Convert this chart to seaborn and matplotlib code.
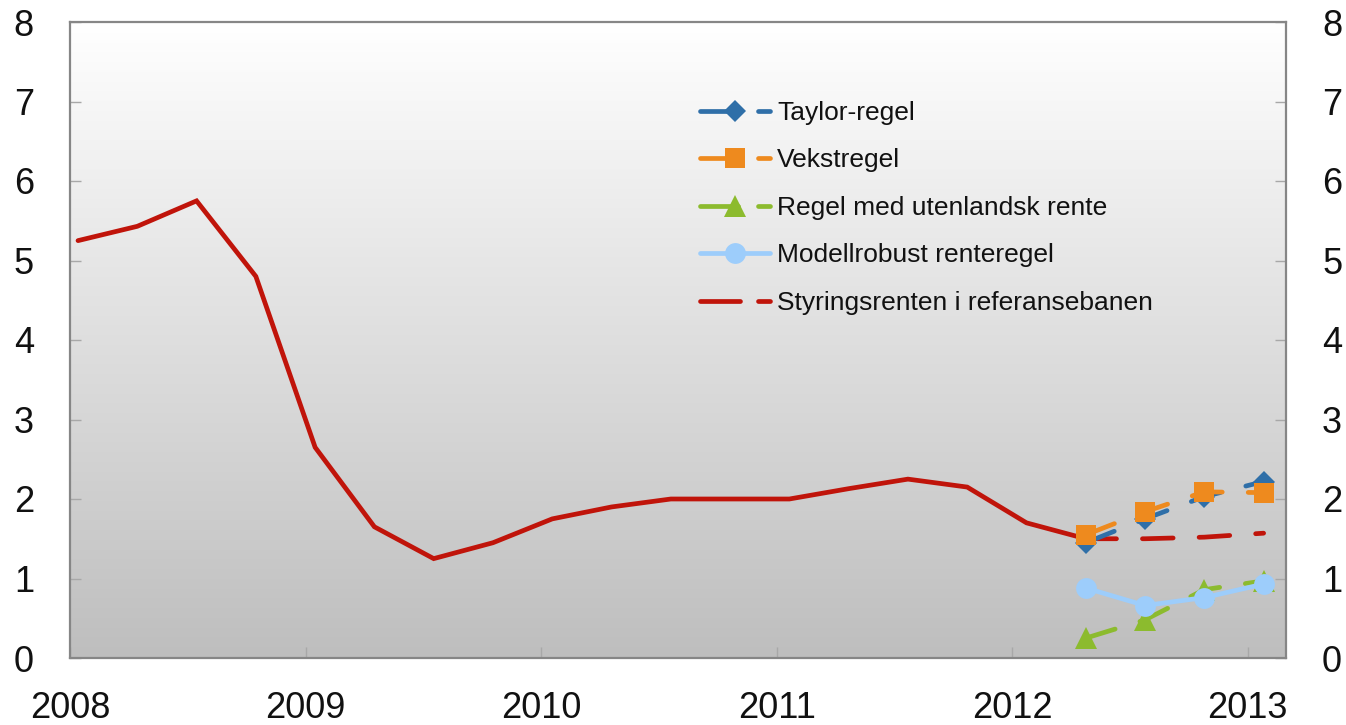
import numpy as np
import pandas as pd
import matplotlib
matplotlib.use("Agg")
import matplotlib.pyplot as plt
import seaborn as sns
from matplotlib.lines import Line2D
from matplotlib.legend_handler import HandlerBase
from matplotlib.colors import LinearSegmentedColormap

# ---------------- data ----------------
quarters_hist = ["2008Q1", "2008Q2", "2008Q3", "2008Q4",
                 "2009Q1", "2009Q2", "2009Q3", "2009Q4",
                 "2010Q1", "2010Q2", "2010Q3", "2010Q4",
                 "2011Q1", "2011Q2", "2011Q3", "2011Q4",
                 "2012Q1", "2012Q2"]
policy_rate = [5.25, 5.43, 5.75, 4.80, 2.65, 1.65, 1.25, 1.45, 1.75,
               1.90, 2.00, 2.00, 2.00, 2.13, 2.25, 2.15, 1.70, 1.50]

quarters_fc = ["2012Q2", "2012Q3", "2012Q4", "2013Q1"]
taylor = [1.45, 1.75, 2.03, 2.22]
vekst = [1.55, 1.84, 2.09, 2.08]
utenlandsk = [0.25, 0.48, 0.86, 0.97]
modellrobust = [0.88, 0.66, 0.76, 0.93]
referanse = [1.50, 1.50, 1.52, 1.57]

year_ticks = [2008, 2009, 2010, 2011, 2012, 2013]
y_ticks = [0, 1, 2, 3, 4, 5, 6, 7, 8]

labels = ["Taylor-regel", "Vekstregel", "Regel med utenlandsk rente",
          "Modellrobust renteregel", "Styringsrenten i referansebanen"]

# colours
c_taylor = "#2f6fa8"
c_vekst = "#ee8a1e"
c_utl = "#8cbb2e"
c_mod = "#9dcdfb"
c_red = "#c0140a"


def qpos(q):
    year = int(q[:4])
    n = int(q[-1])
    idx = (year - 2008) * 4 + n - 1
    return 2008.034 + idx * 0.2517


x_hist = [qpos(q) for q in quarters_hist]
x_fc = [qpos(q) for q in quarters_fc]

plt.rcParams["font.family"] = ["Liberation Sans", "DejaVu Sans"]

fig = plt.figure(figsize=(13.46, 7.25), dpi=100)
ax = fig.add_axes([70 / 1346, 1 - 658 / 725, (1286 - 70) / 1346, (658 - 22) / 725])

# gradient background
cmap = LinearSegmentedColormap.from_list("bg", ["#bebebe", "#ffffff"])
grad = np.linspace(0, 1, 256).reshape(-1, 1)
ax.imshow(grad, cmap=cmap, aspect="auto", extent=(0, 1, 0, 1),
          transform=ax.transAxes, origin="lower", zorder=0, interpolation="bicubic")

lw = 3.4
dash = (0, (6.5, 5.5))

sns.lineplot(x=x_hist, y=policy_rate, ax=ax, color=c_red, linewidth=lw,
             legend=False, zorder=3, solid_capstyle="round", solid_joinstyle="miter")
sns.lineplot(x=x_fc, y=referanse, ax=ax, color=c_red, linewidth=lw,
             linestyle=dash, dash_capstyle="round", legend=False, zorder=3)
sns.lineplot(x=x_fc, y=utenlandsk, ax=ax, color=c_utl, linewidth=lw,
             linestyle=dash, dash_capstyle="round", marker="^", markersize=16,
             markeredgewidth=0, markeredgecolor=c_utl, legend=False, zorder=4)
sns.lineplot(x=x_fc, y=taylor, ax=ax, color=c_taylor, linewidth=lw,
             linestyle=dash, dash_capstyle="round", marker="D", markersize=11,
             markeredgewidth=0, markeredgecolor=c_taylor, legend=False, zorder=5)
sns.lineplot(x=x_fc, y=vekst, ax=ax, color=c_vekst, linewidth=lw,
             linestyle=dash, dash_capstyle="round", marker="s", markersize=15,
             markeredgewidth=0, markeredgecolor=c_vekst, legend=False, zorder=6)
sns.lineplot(x=x_fc, y=modellrobust, ax=ax, color=c_mod, linewidth=lw,
             marker="o", markersize=15, markeredgewidth=0, markeredgecolor=c_mod,
             legend=False, zorder=7)

ax.set_xlim(2008, 2013.163)
ax.set_ylim(0, 8)
ax.set_xticks(year_ticks)
ax.set_xticklabels([str(y) for y in year_ticks])
ax.set_yticks(y_ticks)
ax.set_yticklabels([str(v) for v in y_ticks])
ax.set_xlabel("")
ax.set_ylabel("")

for s in ax.spines.values():
    s.set_color("#868686")
    s.set_linewidth(1.6)
    s.set_zorder(10)

ax.tick_params(axis="both", direction="in", length=8, width=1, color="#a8a8a8",
               labelsize=26, labelcolor="#111111")
ax.tick_params(axis="y", left=True, right=True, labelleft=True, labelright=True, pad=26)
ax.tick_params(axis="x", top=False, pad=24)


class RuleHandler(HandlerBase):
    def __init__(self, solid_end, marker_at, dash_start):
        super().__init__()
        self.solid_end = solid_end
        self.marker_at = marker_at
        self.dash_start = dash_start

    def create_artists(self, legend, orig, xdescent, ydescent, width, height,
                       fontsize, trans):
        y = height / 2 - ydescent
        x0 = -xdescent
        color = orig.get_color()
        lwid = orig.get_linewidth()
        arts = [Line2D([x0, x0 + self.solid_end * width], [y, y], color=color,
                       lw=lwid, solid_capstyle="round")]
        if self.dash_start is not None:
            arts.append(Line2D([x0 + self.dash_start * width, x0 + width], [y, y],
                               color=color, lw=lwid, solid_capstyle="round"))
        mk = orig.get_marker()
        if self.marker_at is not None and mk not in (None, "None", ""):
            arts.append(Line2D([x0 + self.marker_at * width], [y], linestyle="none",
                               marker=mk, markersize=orig.get_markersize(),
                               color=color, markeredgecolor=color, markeredgewidth=0))
        for a in arts:
            a.set_transform(trans)
        return arts


h_taylor = Line2D([], [], color=c_taylor, lw=lw, marker="D", markersize=11)
h_vekst = Line2D([], [], color=c_vekst, lw=lw, marker="s", markersize=15)
h_utl = Line2D([], [], color=c_utl, lw=lw, marker="^", markersize=16)
h_mod = Line2D([], [], color=c_mod, lw=lw, marker="o", markersize=15)
h_red = Line2D([], [], color=c_red, lw=lw)

handles = [h_taylor, h_vekst, h_utl, h_mod, h_red]
hmap = {
    h_taylor: RuleHandler(0.55, 0.5, 0.83),
    h_vekst: RuleHandler(0.55, 0.5, 0.83),
    h_utl: RuleHandler(0.55, 0.5, 0.83),
    h_mod: RuleHandler(1.0, 0.5, None),
    h_red: RuleHandler(0.57, None, 0.83),
}

leg = ax.legend(handles, labels, handler_map=hmap, loc="upper left",
                bbox_to_anchor=(700 / 1346, 1 - 101 / 725), bbox_transform=fig.transFigure,
                frameon=False, fontsize=19, borderpad=0, borderaxespad=0,
                handlelength=2.65, handletextpad=0.27, labelspacing=0.89)
for t in leg.get_texts():
    t.set_color("#111111")

fig.savefig("out.png", dpi=100)
